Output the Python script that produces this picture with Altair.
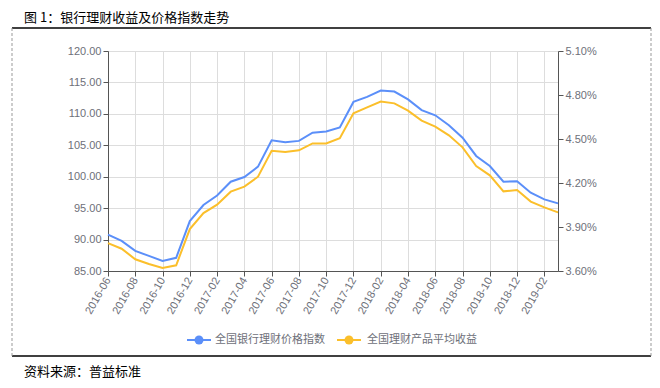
import altair as alt
import pandas as pd

months = [
    "2016-06", "2016-07", "2016-08", "2016-09", "2016-10", "2016-11", "2016-12",
    "2017-01", "2017-02", "2017-03", "2017-04", "2017-05", "2017-06", "2017-07",
    "2017-08", "2017-09", "2017-10", "2017-11", "2017-12", "2018-01", "2018-02",
    "2018-03", "2018-04", "2018-05", "2018-06", "2018-07", "2018-08", "2018-09",
    "2018-10", "2018-11", "2018-12", "2019-01", "2019-02", "2019-03",
]
price_index = [
    90.8, 89.8, 88.2, 87.4, 86.6, 87.1, 92.95, 95.5, 97.0, 99.2, 99.95, 101.6,
    105.8, 105.5, 105.7, 107.0, 107.2, 107.85, 111.9, 112.7, 113.7, 113.55,
    112.3, 110.6, 109.77, 108.2, 106.2, 103.3, 101.7, 99.2, 99.27, 97.46, 96.4, 95.76,
]
avg_yield = [
    3.79, 3.752, 3.68, 3.648, 3.62, 3.639, 3.886, 3.995, 4.052, 4.141, 4.175, 4.243,
    4.42, 4.411, 4.423, 4.47, 4.47, 4.505, 4.675, 4.716, 4.755, 4.743, 4.693, 4.625,
    4.584, 4.525, 4.443, 4.316, 4.252, 4.143, 4.152, 4.073, 4.034, 4.0,
]
series_names = ["全国银行理财价格指数", "全国理财产品平均收益"]
left_ticks = [85, 90, 95, 100, 105, 110, 115, 120]
right_ticks = [3.6, 3.9, 4.2, 4.5, 4.8, 5.1]
title_text = "图 1：银行理财收益及价格指数走势"
source_text = "资料来源：普益标准"

BLUE = "#5B8FF9"
YELLOW = "#FBBF2B"
FONT = "Noto Sans CJK SC"
LABEL_COLOR = "#6E7079"

df = pd.DataFrame({"month": months, "price": price_index, "yield": avg_yield})

x_enc = alt.X(
    "month:O",
    sort=months,
    scale=alt.Scale(type="point", padding=0),
    axis=alt.Axis(
        values=months[::2], title=None, labelAngle=-60, labelFontSize=11,
        labelColor=LABEL_COLOR, grid=True, tickSize=5, domainColor="#555",
        tickColor="#555", labelPadding=2,
    ),
)

base = alt.Chart(df).encode(x=x_enc)

line_price = base.mark_line(color=BLUE, strokeWidth=2).encode(
    y=alt.Y(
        "price:Q",
        scale=alt.Scale(domain=[85, 120], nice=False, zero=False),
        axis=alt.Axis(
            orient="left", values=left_ticks, format=".2f", title=None,
            labelFontSize=11, labelColor=LABEL_COLOR, tickSize=5,
            domainColor="#555", tickColor="#555",
        ),
    )
)
line_yield = base.mark_line(color=YELLOW, strokeWidth=2).encode(
    y=alt.Y(
        "yield:Q",
        scale=alt.Scale(domain=[3.6, 5.1], nice=False, zero=False),
        axis=alt.Axis(
            orient="right", values=right_ticks, title=None,
            labelExpr="format(datum.value, '.2f') + '%'",
            labelFontSize=11, labelColor=LABEL_COLOR, tickSize=5,
            domainColor="#555", tickColor="#555",
        ),
    )
)

lines = alt.layer(line_price, line_yield).resolve_scale(y="independent")

one = pd.DataFrame({"a": [0]})


def text_layer(txt, x, y, size, color):
    return alt.Chart(pd.DataFrame({"t": [txt]})).mark_text(
        align="left", baseline="middle", fontSize=size, color=color, font=FONT
    ).encode(x=alt.value(x), y=alt.value(y), text="t:N")


def hrule(x1, x2, y, color, width, dash=None):
    kw = dict(color=color, strokeWidth=width)
    if dash:
        kw["strokeDash"] = dash
    return alt.Chart(one).mark_rule(**kw).encode(
        x=alt.value(x1), x2=alt.value(x2), y=alt.value(y)
    )


def vrule(x, y1, y2, color, width, dash=None):
    kw = dict(color=color, strokeWidth=width)
    if dash:
        kw["strokeDash"] = dash
    return alt.Chart(one).mark_rule(**kw).encode(
        x=alt.value(x), y=alt.value(y1), y2=alt.value(y2)
    )


def dot(x, y, color):
    return alt.Chart(one).mark_point(
        filled=True, size=80, color=color, opacity=1, shape="circle"
    ).encode(x=alt.value(x), y=alt.value(y))


deco = [
    text_layer(title_text, -84, -33, 13, "#000"),
    text_layer(source_text, -84, 321, 13, "#000"),
    hrule(-96, 543, -23, "#000", 1.5),
    hrule(-96, 543, 305, "#000", 1.5),
    vrule(-96, -23, 305, "#999", 1, [3, 2]),
    vrule(543, -23, 305, "#999", 1, [3, 2]),
    hrule(79, 103, 289, BLUE, 2),
    dot(91, 289, BLUE),
    text_layer(series_names[0], 107, 289, 11, LABEL_COLOR),
    hrule(229, 253, 289, YELLOW, 2),
    dot(241, 289, YELLOW),
    text_layer(series_names[1], 259, 289, 11, LABEL_COLOR),
]

chart = alt.layer(lines, *deco).properties(
    width=450,
    height=220,
    autosize=alt.AutoSizeParams(type="none"),
    padding={"left": 100, "top": 43, "right": 94, "bottom": 109},
).configure_view(strokeWidth=0).configure_axis(
    labelFont=FONT,
    gridColor="#E3E3E3",
    gridDash=[4, 3],
    domainWidth=1.5,
).configure(background="white")

chart.save("out.html", embed_options={"renderer": "svg", "actions": False})
